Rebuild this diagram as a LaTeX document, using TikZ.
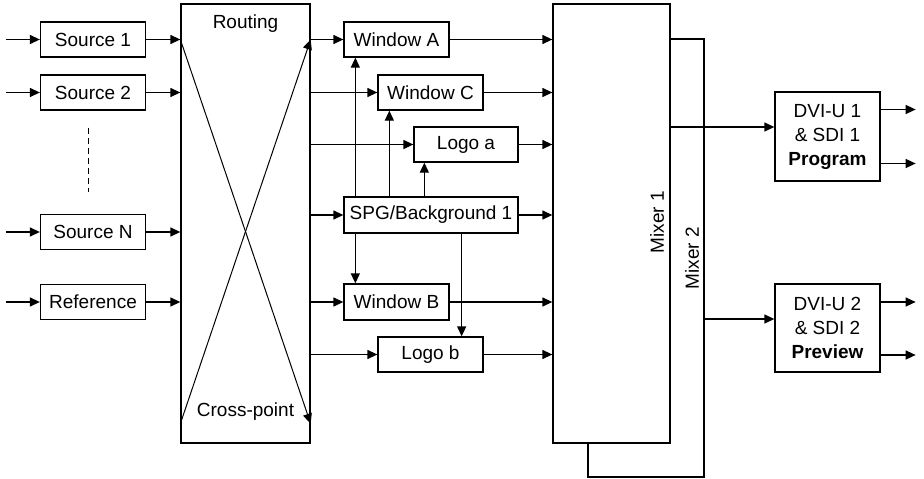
\documentclass[tikz,border=0pt]{standalone}
\usepackage{fontspec}
\setmainfont{Liberation Sans}
\usetikzlibrary{arrows.meta}

\begin{document}
\begin{tikzpicture}[x=1pt, y=-1pt, line width=1.3pt,
	blk/.style={draw, fill=white, inner sep=0pt, minimum width=105pt, minimum height=35pt, font=\fontsize{19}{24}\selectfont},
	tall/.style={draw, fill=white, inner sep=0pt},
	lbl/.style={inner sep=0pt, font=\fontsize{19}{24}\selectfont},
	arr/.style={-{Triangle[length=10pt,width=9pt]}}]
			%%%%% START %%%%%
			\useasboundingbox (0,0) rectangle (924,479);
			
			% sources
			\node[blk] (src1) at (93,39.5) {Source 1};
			\node[blk] (src2) at (93,92.5) {Source 2};
			\node[blk] (srcN) at (93,232) {Source N};
			\node[blk] (ref) at (93,302) {Reference};
			\draw[line width=1pt, dash pattern=on 6pt off 4pt] ([xshift=-5pt,yshift=-17pt]src2.south) -- ([xshift=-5pt,yshift=22pt]srcN.north);
			\foreach \s in {src1,src2,srcN,ref}
				\draw[arr] ([xshift=-34pt]\s.west) -- (\s.west);
			
			% routing
			\node[tall, minimum width=129pt, minimum height=439pt] (route) at (245.5,223.5) {};
			\node[lbl] (routelbl) at ([yshift=-20pt]route.north) {Routing};
			\node[lbl] (xplbl) at ([yshift=32pt]route.south) {Cross-point};
			\foreach \s in {src1,src2,srcN,ref}
				\draw[arr] (\s.east) -- (\s -| route.west);
			\draw[arr, line width=1pt] (route.west |- src1) -- ([yshift=20pt]route.south east);
			\draw[arr, line width=1pt] ([yshift=20pt]route.south west) -- (route.east |- src1);
			
			% windows and logos
			\node[blk] (winA) at (396.5,39.5) {Window A};
			\node[blk] (winC) at (430.5,92.5) {Window C};
			\node[blk, minimum width=104pt] (logoa) at (466,144.5) {Logo a};
			\node[blk, minimum width=174pt, minimum height=36pt] (spg) at (431,215) {SPG/Background 1};
			\node[blk, minimum height=36pt] (winB) at (396.5,302) {Window B};
			\node[blk] (logob) at (430.5,354.5) {Logo b};
			
			% mixers
			\node[tall, minimum width=116pt, minimum height=438pt] (mix2) at (646,258) {};
			\node[tall, minimum width=117pt, minimum height=439pt] (mix1) at (611.5,223.5) {};
			\node[lbl, rotate=90] (mix1lbl) at (657,222) {Mixer 1};
			\node[lbl, rotate=90] (mix2lbl) at (692,258) {Mixer 2};
			
			\foreach \w in {winA,winC,logoa,spg,winB,logob}{
				\draw[arr] (route.east |- \w) -- (\w.west);
				\draw[arr] (\w.east) -- (\w -| mix1.west);
			}
			
			% spg feeds
			\coordinate (va) at ([xshift=12pt]winA.south west);
			\coordinate (vc) at ([xshift=12pt]winC.south west);
			\coordinate (vl) at ([xshift=11pt]logoa.south west);
			\coordinate (vb) at ([xshift=12pt]winB.north west);
			\coordinate (vm) at ([xshift=-22pt]logob.north east);
			\draw[arr] (va |- spg.north) -- (va);
			\draw[arr] (vc |- spg.north) -- (vc);
			\draw[arr] (vl |- spg.north) -- (vl);
			\draw[arr] (vb |- spg.south) -- (vb);
			\draw[arr] (vm |- spg.south) -- (vm);
			
			% outputs
			\node[blk, minimum height=89pt, align=center] (dvi1) at (827.5,136.5) {DVI-U 1\\\& SDI 1\\\textbf{Program}};
			\node[blk, minimum height=88pt, align=center] (dvi2) at (827.5,328) {DVI-U 2\\\& SDI 2\\\textbf{Preview}};
			\coordinate (in1) at ([yshift=9.5pt]dvi1.west);
			\coordinate (in2) at ([yshift=9pt]dvi2.west);
			\draw[arr] (mix1.east |- in1) -- (in1);
			\draw[arr] (mix2.east |- in2) -- (in2);
			\draw[arr] ([yshift=27pt]dvi1.east) -- ++(35,0);
			\draw[arr] ([yshift=-27pt]dvi1.east) -- ++(35,0);
			\draw[arr] ([yshift=26pt]dvi2.east) -- ++(35,0);
			\draw[arr] ([yshift=-27pt]dvi2.east) -- ++(35,0);
			
			%%%%% END %%%%%
\end{tikzpicture}
\end{document}
